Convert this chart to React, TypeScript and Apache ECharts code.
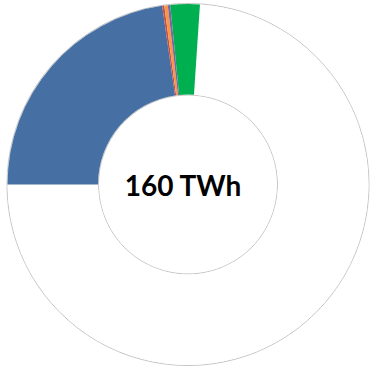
import React, { useEffect, useRef } from "react";
import * as echarts from "echarts";

// Donut of total production (TWh), clockwise order starting just right of 12 o'clock
const sliceNames = ["Rest", "Share A", "Share B", "Share C", "Share D", "Share E"];
const sliceValues = [118.3, 36.35, 0.3, 0.5, 0.35, 4.2];
const sliceColors = ["#ffffff", "#4670a4", "#c0504d", "#f79646", "#8064a2", "#00b050"];
const centerLabel = "160 TWh";

export default function App() {
  const ref = useRef<HTMLDivElement>(null);

  useEffect(() => {
    document.body.style.margin = "0";
    if (!ref.current) return;
    const chart = echarts.init(ref.current, null, { renderer: "svg" });
    const center = [188, 184.5];
    chart.setOption({
      animation: false,
      backgroundColor: "#ffffff",
      series: [
        {
          // thin grey rings outlining the donut
          type: "pie",
          silent: true,
          z: 1,
          center,
          radius: [89.5, 181],
          startAngle: 90,
          label: { show: false },
          labelLine: { show: false },
          itemStyle: { color: "#ffffff", borderColor: "#c4c4c4", borderWidth: 1 },
          data: [{ value: 1, name: "outline" }],
        },
        {
          type: "pie",
          silent: true,
          z: 2,
          center,
          radius: [90, 180.5],
          startAngle: 86.2,
          clockwise: true,
          label: { show: false },
          labelLine: { show: false },
          itemStyle: { borderWidth: 0 },
          data: sliceNames.map((name, i) => ({
            name,
            value: sliceValues[i],
            itemStyle: { color: sliceColors[i] },
          })),
        },
      ],
      graphic: [
        {
          type: "text",
          x: 183,
          y: 185,
          z: 10,
          style: {
            text: centerLabel,
            fontFamily: "Lato",
            fontWeight: "bold",
            fontSize: 28,
            fill: "#000000",
            textAlign: "center",
            textVerticalAlign: "middle",
          },
        },
      ],
    });
    return () => chart.dispose();
  }, []);

  return <div ref={ref} style={{ width: 370, height: 369 }} />;
}
